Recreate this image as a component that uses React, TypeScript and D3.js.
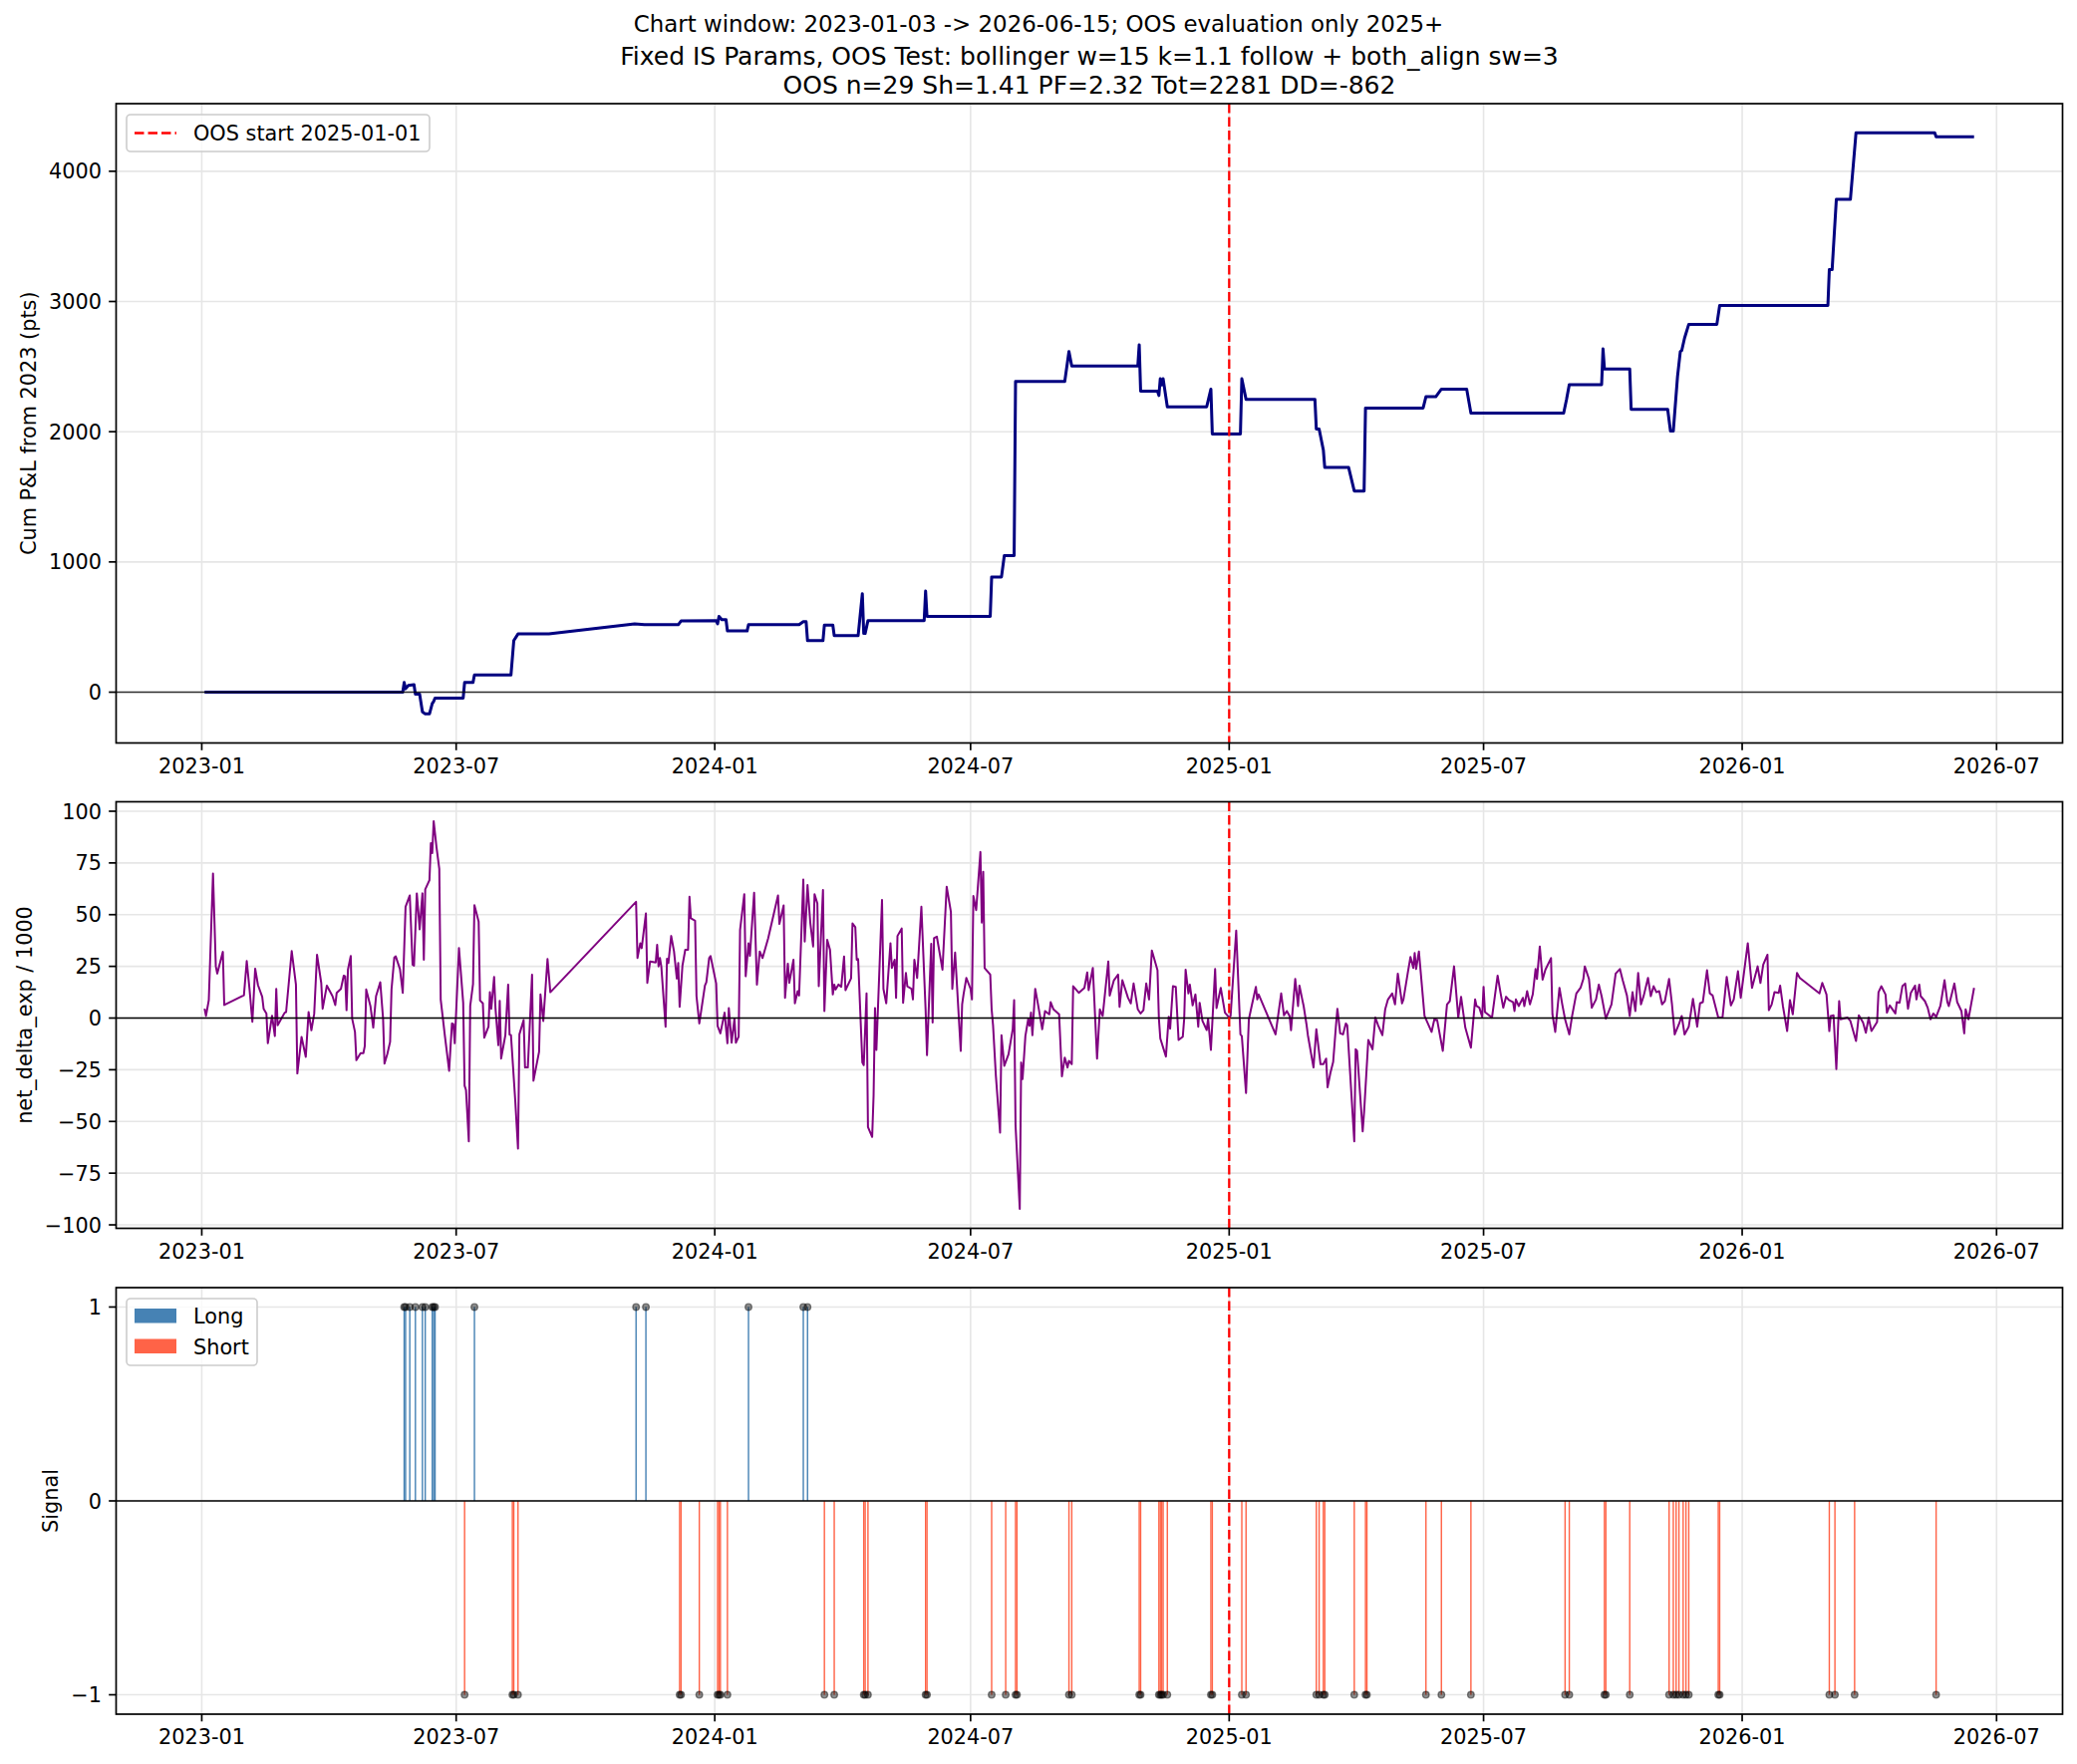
import React from "react";
import * as d3 from "d3";

// ---------- text ----------
const SUPTITLE = "Chart window: 2023-01-03 -> 2026-06-15; OOS evaluation only 2025+";
const TITLE_LINES = [
  "Fixed IS Params, OOS Test: bollinger w=15 k=1.1 follow + both_align sw=3",
  "OOS n=29 Sh=1.41 PF=2.32 Tot=2281 DD=-862",
];
const OOS_LABEL = "OOS start 2025-01-01";
const Y_LABELS = ["Cum P&L from 2023 (pts)", "net_delta_exp / 1000", "Signal"];
const SIGNAL_NAMES = ["Long", "Short"];

// ---------- time axis (day numbers count from 2023-01-01) ----------
const EPOCH = new Date(2023, 0, 1);
const FIRST_DAY = 2; // 2023-01-03
const LAST_DAY = 1261; // 2026-06-15
const OOS_START_DAY = 731; // 2025-01-01

// ---------- cumulative P&L (pts) : [day, value] ----------
const cumPnl: [number, number][] = [
  [2, 0], [143, 0], [144, 74], [145, 26], [147, 51], [151, 58], [152, -16], [155, -16],
  [157, -151], [159, -167], [162, -167], [164, -87], [165, -71], [166, -45], [186, -45],
  [187, 74], [193, 74], [194, 132], [220, 132], [222, 396], [225, 447], [247, 447],
  [308, 525], [315, 518], [339, 518], [341, 547], [366, 550], [367, 525], [368, 582],
  [370, 557], [373, 557], [374, 470], [388, 470], [389, 518], [425, 518], [428, 541],
  [430, 541], [431, 396], [442, 396], [443, 515], [449, 515], [450, 434], [467, 434],
  [470, 756], [471, 451], [472, 451], [474, 550], [514, 550], [515, 776], [516, 582],
  [561, 582], [562, 885], [569, 885], [571, 1049], [578, 1049], [579, 2385], [614, 2385],
  [617, 2616], [619, 2504], [666, 2504], [667, 2668], [668, 2311], [680, 2311], [681, 2278],
  [682, 2407], [683, 2359], [684, 2407], [687, 2191], [715, 2191], [718, 2327], [719, 1982],
  [739, 1982], [740, 2407], [743, 2249], [792, 2249], [793, 2021], [795, 2021], [798, 1860],
  [799, 1725], [816, 1725], [820, 1545], [827, 1545], [828, 2182], [869, 2182], [871, 2269],
  [878, 2269], [882, 2327], [900, 2327], [903, 2143], [969, 2143], [971, 2246], [973, 2362],
  [996, 2362], [997, 2636], [998, 2481], [1016, 2481], [1017, 2172], [1043, 2172],
  [1045, 2005], [1047, 2005], [1050, 2423], [1052, 2616], [1053, 2623], [1055, 2719],
  [1058, 2825], [1078, 2825], [1080, 2970], [1157, 2970], [1158, 3244], [1160, 3244],
  [1163, 3784], [1173, 3784], [1177, 4296], [1233, 4296], [1234, 4264], [1261, 4264],
];

// ---------- net delta exposure / 1000 : [day, value] ----------
const delta2023: [number, number][] = [
  [2, 4.5], [3, 1], [5, 8.7], [8, 69.9], [10, 25], [11, 21.5], [15, 32], [16, 6.3], [30, 11],
  [32, 27.6], [34, 13.8], [36, -1.8], [38, 23.9], [40, 15.9], [43, 10.3], [44, 4.5], [46, 2.2],
  [47, -12.2], [50, 1.1], [52, -8.7], [53, 14.1], [54, -3.5], [59, 2.6], [60, 2.9], [64, 32.4],
  [67, 16.2], [68, -26.8], [71, -9.1], [74, -18.8], [76, 2.9], [78, -5.9], [80, 2.1], [82, 30.6],
  [85, 17], [86, 4.5], [89, 15.7], [93, 10.6], [95, 6.3], [96, 12.2], [99, 14.1], [101, 20.5],
  [102, 20.2], [103, 3.8], [104, 23.4], [106, 30], [107, -0.3], [109, -6.7], [110, -20.4],
  [113, -17], [115, -17], [116, -13.5], [117, 13.8], [120, 5.8], [122, -4.6], [124, 10.6],
  [127, 17.3], [129, -0.3], [130, -22], [132, -17.5], [134, -11.5], [135, 13.8], [137, 29.3],
  [138, 29.8], [141, 23.7], [143, 12.2], [145, 53.8], [148, 59.3], [150, 25.8], [151, 25.3],
  [153, 60.3], [154, 52.2], [155, 42.9], [157, 60.3], [158, 28.2], [159, 62.2], [162, 66.7],
  [163, 84.6], [164, 79.8], [165, 95.2], [167, 82.7], [169, 72.1], [170, 9], [173, -8.7],
  [176, -25.5], [178, -2.6], [179, -3], [180, -12.2], [183, 33.8], [186, 7.4], [187, -32.7],
  [188, -34.8], [190, -59.6], [191, 5.8], [193, 16.5], [194, 54.6], [197, 46.6], [198, 8.5],
  [200, 7.1], [201, -9.5], [204, -4.2], [205, 12.5], [206, 4.5], [208, 19.9], [209, 4.5],
  [211, -13.1], [212, 8.3], [213, -19.6], [216, -8.3], [218, 16.2], [219, -8], [220, -8.3],
  [223, -39.4], [225, -63.1], [226, -7.9], [229, -1], [230, -23.9], [232, -23.9], [235, 21],
  [236, -30.3], [240, -16.3], [241, 11.4], [243, -1.4], [246, 28.5], [248, 12.5], [309, 56.2],
  [310, 29], [312, 36.2], [313, 33.8], [316, 50.6], [317, 17], [319, 27.4], [323, 26.9],
  [324, 35.4], [325, 25], [326, 29], [327, 24.7], [330, -4.2], [331, 28.7], [332, 26.6],
  [334, 39.7], [336, 32.2], [338, 19.1], [339, 26.6], [340, 5.4], [342, 25.3], [344, 33],
  [346, 33], [347, 58.7], [348, 48.2], [351, 47.1], [352, 10.6], [354, -2.6], [358, 15.7],
  [359, 17.3], [361, 29], [362, 30],
];
const delta2024: [number, number][] = [
  [366, 16.7], [367, -3.8], [369, -7.4], [372, 2.6], [374, -12.2], [375, 4.8], [377, -11.9],
  [379, -0.3], [380, -11.9], [382, -9], [383, 42.6], [386, 59.9], [387, 20.2], [389, 36.2],
  [390, 30.1], [393, 60.6], [395, 16.2], [397, 32.2], [399, 29], [403, 38.6], [410, 59.3],
  [411, 45.5], [414, 54.5], [415, 9.8], [417, 26.3], [418, 17], [421, 28.2], [422, 7.1],
  [424, 13], [425, 10.9], [428, 67], [429, 37], [431, 64.3], [433, 45.8], [435, 34.6],
  [436, 59.9], [438, 55.4], [439, 15.4], [442, 61.9], [443, 3.4], [445, 37.8], [447, 33],
  [449, 11.4], [450, 16.2], [451, 13.8], [453, 16.2], [455, 15.1], [457, 29.8], [458, 13.5],
  [462, 19.2], [463, 45.8], [465, 43.9], [466, 28.2], [467, 28.5], [470, -21.5], [471, -22.8],
  [473, 11.9], [474, -52.7], [477, -57.5], [478, -37.5], [479, 4.8], [480, -15.4], [484, 57.1],
  [485, 14.1], [487, 7.1], [490, 36.2], [491, 24.2], [493, 28.2], [494, 9.8], [495, 39.7],
  [498, 43.3], [499, 7.4], [501, 21.8], [502, 15.4], [505, 14.1], [506, 9], [507, 28.2],
  [509, 19.4], [512, 53.8], [515, 4.2], [516, -17.9], [519, 35.9], [520, -2.2], [521, 38.6],
  [523, 39.4], [527, 23.4], [530, 63.5], [533, 51.4], [534, 14.1], [536, 31.7], [540, -15.9],
  [541, 6.6], [542, 11.4], [544, 19.4], [547, 14.1], [548, 9], [549, 59], [551, 52.2],
  [554, 80.3], [555, 46.2], [556, 70.7], [557, 24.2], [561, 21], [562, 4.2], [563, -3.5],
  [565, -27.9], [568, -55.4], [569, -8.3], [571, -23.1], [574, -17.5], [577, -5.4], [578, 8.7],
  [579, -51.9], [582, -92.3], [583, -21.5], [584, -29.5], [586, -8.7], [588, -0.6], [589, -3.8],
  [590, 2.6], [591, -8.3], [593, 14.1], [595, 6.6], [598, -5.4], [600, 3.4], [603, 1.8],
  [604, 7.7], [606, 4.2], [610, 1.8], [612, -28.2], [614, -19.1], [616, -23.9], [617, -20.7],
  [619, -22.3], [620, 15.4], [624, 12.2], [628, 14.6], [630, 22.1], [631, 13.5], [634, 24.2],
  [637, -19.6], [639, 4.2], [641, 1], [645, 27.4], [646, 10.9], [649, 18.3], [652, 21],
  [653, 5.4], [655, 18.3], [659, 9.8], [661, 7.1], [663, 16.7], [666, 4.2], [668, 2.2],
  [670, 3.8], [672, 16.7], [674, 9], [676, 32.7], [680, 23.1], [681, -0.3], [682, -9.9],
  [686, -18.6], [688, 0.6], [689, -5.1], [691, 15.4], [693, 15.1], [695, -10.6], [698, -9],
  [699, -0.3], [700, 23.4], [702, 11.9], [703, 16.2], [705, 6.1], [707, 11.4], [709, -4.2],
  [710, 7.4], [712, -1.4], [715, -5.8], [716, -0.3], [718, -15.4], [721, 23.7], [722, 4.8],
  [725, 14.6], [728, 2.6], [730, 1],
];
const delta2025: [number, number][] = [
  [731, 0.2], [732, 1], [736, 42.3], [739, -7.9], [740, -8.7], [743, -36.2], [745, -0.6],
  [747, 5.8], [750, 15.1], [751, 9], [752, 11.4], [764, -7.9], [768, 11.9], [770, 1.3],
  [772, 3.4], [774, 1], [775, -5.9], [778, 18.9], [780, 5.8], [781, 15.7], [783, 9], [784, 5.8],
  [786, -3], [787, -8.3], [791, -23.9], [793, -5.4], [796, -22.3], [798, -22.3], [800, -19.6],
  [801, -33.5], [803, -26.6], [805, -21.2], [807, -3.5], [808, 4.5], [810, -7.4], [812, -7.9],
  [814, -2.6], [815, -3.5], [820, -59.6], [821, -15.1], [822, -15.9], [826, -54.8],
  [827, -45.5], [830, -10.6], [833, -15.1], [835, 0.2], [837, -3.5], [840, -8.3], [842, 4.2],
  [844, 9], [847, 11.9], [849, 6.6], [851, 21.5], [854, 7.1], [855, 9], [858, 21.5], [860, 29.5],
  [862, 24.2], [863, 31.4], [864, 23.7], [866, 32.2], [870, 1], [875, -6.7], [877, -0.6],
  [879, -1], [883, -15.9], [886, 6.6], [888, 8.2], [891, 25], [894, 0.2], [896, 10.3],
  [899, -4.6], [903, -14.3], [906, 9], [907, 5.8], [909, 5], [911, 0.6], [912, 15.1], [913, 2.9],
  [918, 0.2], [922, 20.5], [924, 12.5], [926, 5], [928, 10.3], [930, 8.7], [933, 7.7], [934, 3.4],
  [935, 9], [937, 5.8], [940, 9.8], [941, 5.8], [943, 13], [945, 6.6], [947, 11.4], [949, 23.7],
  [950, 18.9], [952, 34.6], [954, 18.6], [956, 23.4], [960, 29], [961, 1.8], [963, -6.7],
  [966, 14.6], [968, 6.6], [970, -0.6], [973, -7.9], [975, 1], [978, 11.9], [981, 14.6],
  [983, 18.9], [984, 25], [987, 18.9], [989, 5], [992, 9], [994, 16.2], [996, 10.6], [999, -0.3],
  [1003, 6.6], [1006, 21.5], [1009, 23.7], [1011, 18.3], [1014, 10.9], [1016, 1], [1018, 12.5],
  [1020, 3.4], [1022, 21.8], [1024, 6.6], [1026, 10.9], [1029, 19.4], [1031, 10.6],
  [1033, 15.4], [1035, 12.5], [1037, 13], [1039, 6.6], [1041, 8.2], [1044, 18.9], [1046, 7.1],
  [1048, -7.9], [1051, -3], [1053, 1], [1055, -7.9], [1058, -4.2], [1061, 9.3], [1064, -4.2],
  [1066, 7.1], [1068, 7.7], [1071, 23.1], [1073, 11.9], [1075, 10.9], [1079, 0.2], [1082, 0.2],
  [1085, 19.9], [1088, 6.1], [1090, 9], [1093, 22.6], [1095, 9.8],
];
const delta2026: [number, number][] = [
  [1100, 36.2], [1103, 14.6], [1107, 25], [1109, 17], [1111, 25.8], [1114, 30.6], [1115, 3.8],
  [1117, 6.6], [1119, 12.5], [1122, 12.2], [1123, 15.7], [1125, 5.8], [1128, -6.3], [1130, 8.7],
  [1132, 1.8], [1135, 21.8], [1137, 19.4], [1151, 11.9], [1153, 17], [1156, 11.4], [1158, -6.3],
  [1159, 1], [1161, 1.3], [1163, -24.7], [1165, 8.2], [1166, -0.6], [1171, 0.2], [1173, -1.4],
  [1177, -11.1], [1179, 1.3], [1182, -2.2], [1184, -7.1], [1186, 0.2], [1188, -6.3],
  [1192, -1.9], [1193, 12.5], [1195, 15.4], [1198, 11.4], [1199, 2.6], [1201, 6.1], [1205, 2.2],
  [1206, 7.7], [1208, 7.4], [1210, 15.4], [1212, 16.7], [1214, 4.5], [1216, 12.2], [1219, 15.7],
  [1220, 9], [1222, 16.2], [1223, 10.6], [1226, 8.2], [1228, 5], [1230, -0.6], [1232, 2.2],
  [1234, 0.6], [1237, 5.8], [1240, 18.3], [1242, 7.7], [1243, 5.8], [1247, 16.7], [1249, 7.7],
  [1252, 3.4], [1254, -7.4], [1255, 4.2], [1257, -0.6], [1261, 14.6],
];

// ---------- entry signals (day numbers) ----------
const longDays = [144, 145, 148, 152, 157, 159, 164, 165, 166, 194, 309, 316, 389, 428, 431];
const shortDays = [
  187, 221, 222, 225, 340, 341, 354, 367, 368, 369, 374, 443, 450, 471, 472, 474, 515, 516,
  562, 572, 579, 580, 617, 619, 667, 668, 681, 682, 683, 684, 687, 718, 719, 740, 743, 793,
  795, 798, 799, 820, 828, 829, 871, 882, 903, 970, 973, 998, 999, 1016, 1044, 1047, 1049,
  1051, 1054, 1056, 1058, 1079, 1080, 1158, 1162, 1176, 1234,
];

// ---------- ticks ----------
const pnlTicks = [0, 1000, 2000, 3000, 4000];
const deltaTicks = [-100, -75, -50, -25, 0, 25, 50, 75, 100];
const signalTicks = [-1, 0, 1];

// ---------- layout / style ----------
const W = 2084;
const H = 1770;
const L = 116.5;
const R = 2069.5;
const FONT = "'DejaVu Sans', Verdana, sans-serif";
const TICK_FS = 20.8;
const GRID = "#e6e6e6";
const AX = "#000";
const LONG_COLOR = "steelblue";
const SHORT_COLOR = "tomato";

const toDate = (d: number) => d3.timeDay.offset(EPOCH, d);

function padded(vals: number[]): [number, number] {
  const lo = d3.min(vals)!;
  const hi = d3.max(vals)!;
  const p = (hi - lo) * 0.05;
  return [lo - p, hi + p];
}

type PanelProps = {
  id: string;
  top: number;
  bottom: number;
  x: d3.ScaleTime<number, number>;
  xTicks: Date[];
  y: d3.ScaleLinear<number, number>;
  yTicks: number[];
  yLabel: string;
  yLabelX: number;
  zeroOpacity: number;
  children?: React.ReactNode;
  legend?: React.ReactNode;
};

function Panel(p: PanelProps) {
  const { id, top, bottom, x, xTicks, y, yTicks } = p;
  const fmtX = d3.timeFormat("%Y-%m");
  const fmtY = d3.format("d");
  const oosX = x(toDate(OOS_START_DAY));
  return (
    <g>
      <defs>
        <clipPath id={`clip-${id}`}>
          <rect x={L} y={top} width={R - L} height={bottom - top} />
        </clipPath>
      </defs>
      <g clipPath={`url(#clip-${id})`}>
        {xTicks.map((t, i) => (
          <line key={`gx${i}`} x1={x(t)} x2={x(t)} y1={top} y2={bottom} stroke={GRID} strokeWidth={1.6} />
        ))}
        {yTicks.map((v, i) => (
          <line key={`gy${i}`} x1={L} x2={R} y1={y(v)} y2={y(v)} stroke={GRID} strokeWidth={1.6} />
        ))}
        {p.children}
        <line x1={L} x2={R} y1={y(0)} y2={y(0)} stroke="#000" strokeWidth={1.7} strokeOpacity={p.zeroOpacity} />
        <line x1={oosX} x2={oosX} y1={top} y2={bottom} stroke="red" strokeWidth={2.3} strokeDasharray="9.5 4" />
      </g>
      <rect x={L} y={top} width={R - L} height={bottom - top} fill="none" stroke={AX} strokeWidth={1.7} />
      {xTicks.map((t, i) => (
        <g key={`tx${i}`}>
          <line x1={x(t)} x2={x(t)} y1={bottom} y2={bottom + 7.3} stroke={AX} strokeWidth={1.7} />
          <text x={x(t)} y={bottom + 30} textAnchor="middle" fontSize={TICK_FS} fontFamily={FONT}>
            {fmtX(t)}
          </text>
        </g>
      ))}
      {yTicks.map((v, i) => (
        <g key={`ty${i}`}>
          <line x1={L - 7.3} x2={L} y1={y(v)} y2={y(v)} stroke={AX} strokeWidth={1.7} />
          <text x={L - 14.6} y={y(v) + 7.6} textAnchor="end" fontSize={TICK_FS} fontFamily={FONT}>
            {fmtY(v)}
          </text>
        </g>
      ))}
      <text
        transform={`translate(${p.yLabelX},${(top + bottom) / 2}) rotate(-90)`}
        textAnchor="middle"
        fontSize={TICK_FS}
        fontFamily={FONT}
      >
        {p.yLabel}
      </text>
      {p.legend}
    </g>
  );
}

export default function App() {
  const t0 = +toDate(FIRST_DAY);
  const t1 = +toDate(LAST_DAY);
  const xp = (t1 - t0) * 0.05;
  const x = d3.scaleTime().domain([new Date(t0 - xp), new Date(t1 + xp)]).range([L, R]);
  const xTicks = x.ticks(d3.timeMonth.every(6)!);

  const delta = [...delta2023, ...delta2024, ...delta2025, ...delta2026];

  const P1: [number, number] = [104, 745.5];
  const P2: [number, number] = [804.5, 1232.5];
  const P3: [number, number] = [1292, 1720];

  const y1 = d3.scaleLinear().domain(padded(cumPnl.map((d) => d[1]))).range([P1[1], P1[0]]);
  const y2 = d3.scaleLinear().domain(padded(delta.map((d) => d[1]))).range([P2[1], P2[0]]);
  const y3 = d3.scaleLinear().domain(padded([-1, 0, 1])).range([P3[1], P3[0]]);

  const pnlLine = d3
    .line<[number, number]>()
    .x((d) => x(toDate(d[0])))
    .y((d) => y1(d[1]))(cumPnl)!;
  const deltaLine = d3
    .line<[number, number]>()
    .x((d) => x(toDate(d[0])))
    .y((d) => y2(d[1]))(delta)!;

  const bar = (day: number, value: number, color: string, key: string) => {
    const xa = x(toDate(day) as any as Date);
    const w = x(toDate(day + 1)) - xa;
    const yv = y3(value);
    const y0 = y3(0);
    return (
      <rect
        key={key}
        x={xa - w / 2}
        width={w}
        y={Math.min(yv, y0)}
        height={Math.abs(yv - y0)}
        fill={color}
      />
    );
  };

  const marker = (day: number, value: number, key: string) => (
    <circle
      key={key}
      cx={x(toDate(day))}
      cy={y3(value)}
      r={3.3}
      fill="#000"
      fillOpacity={0.45}
      stroke="#000"
      strokeOpacity={0.45}
      strokeWidth={1.3}
    />
  );

  const legendTop = (
    <g fontFamily={FONT} fontSize={TICK_FS}>
      <rect x={127} y={115} width={304} height={37} rx={4} fill="#fff" fillOpacity={0.8} stroke="#cccccc" strokeWidth={1.6} />
      <line x1={135} x2={177} y1={133.5} y2={133.5} stroke="red" strokeWidth={2.3} strokeDasharray="9.5 4" />
      <text x={194} y={141}>{OOS_LABEL}</text>
    </g>
  );

  const legendBottom = (
    <g fontFamily={FONT} fontSize={TICK_FS}>
      <rect x={127} y={1303} width={131} height={67} rx={4} fill="#fff" fillOpacity={0.8} stroke="#cccccc" strokeWidth={1.6} />
      <rect x={135} y={1313} width={42} height={14.5} fill={LONG_COLOR} />
      <text x={194} y={1327.5}>{SIGNAL_NAMES[0]}</text>
      <rect x={135} y={1343.5} width={42} height={14.5} fill={SHORT_COLOR} />
      <text x={194} y={1358.5}>{SIGNAL_NAMES[1]}</text>
    </g>
  );

  return (
    <div style={{ position: "absolute", left: 0, top: 0 }}>
      <svg width={W} height={H} viewBox={`0 0 ${W} ${H}`} style={{ display: "block", background: "#fff" }}>
        <rect width={W} height={H} fill="#fff" />
        <text x={W / 2} y={31.5} textAnchor="middle" fontSize={22.9} fontFamily={FONT}>
          {SUPTITLE}
        </text>
        {TITLE_LINES.map((t, i) => (
          <text key={i} x={(L + R) / 2} y={64.5 + i * 29} textAnchor="middle" fontSize={25} fontFamily={FONT}>
            {t}
          </text>
        ))}

        <Panel
          id="pnl"
          top={P1[0]}
          bottom={P1[1]}
          x={x}
          xTicks={xTicks}
          y={y1}
          yTicks={pnlTicks}
          yLabel={Y_LABELS[0]}
          yLabelX={35.5}
          zeroOpacity={0.8}
          legend={legendTop}
        >
          <path d={pnlLine} fill="none" stroke="navy" strokeWidth={3} strokeLinejoin="round" />
        </Panel>

        <Panel
          id="delta"
          top={P2[0]}
          bottom={P2[1]}
          x={x}
          xTicks={xTicks}
          y={y2}
          yTicks={deltaTicks}
          yLabel={Y_LABELS[1]}
          yLabelX={31.5}
          zeroOpacity={1}
        >
          <path d={deltaLine} fill="none" stroke="purple" strokeWidth={2} strokeLinejoin="round" />
        </Panel>

        <Panel
          id="signal"
          top={P3[0]}
          bottom={P3[1]}
          x={x}
          xTicks={xTicks}
          y={y3}
          yTicks={signalTicks}
          yLabel={Y_LABELS[2]}
          yLabelX={58}
          zeroOpacity={1}
          legend={legendBottom}
        >
          {longDays.map((d, i) => bar(d, 1, LONG_COLOR, `lb${i}`))}
          {shortDays.map((d, i) => bar(d, -1, SHORT_COLOR, `sb${i}`))}
          {longDays.map((d, i) => marker(d, 1, `lm${i}`))}
          {shortDays.map((d, i) => marker(d, -1, `sm${i}`))}
        </Panel>
      </svg>
    </div>
  );
}
